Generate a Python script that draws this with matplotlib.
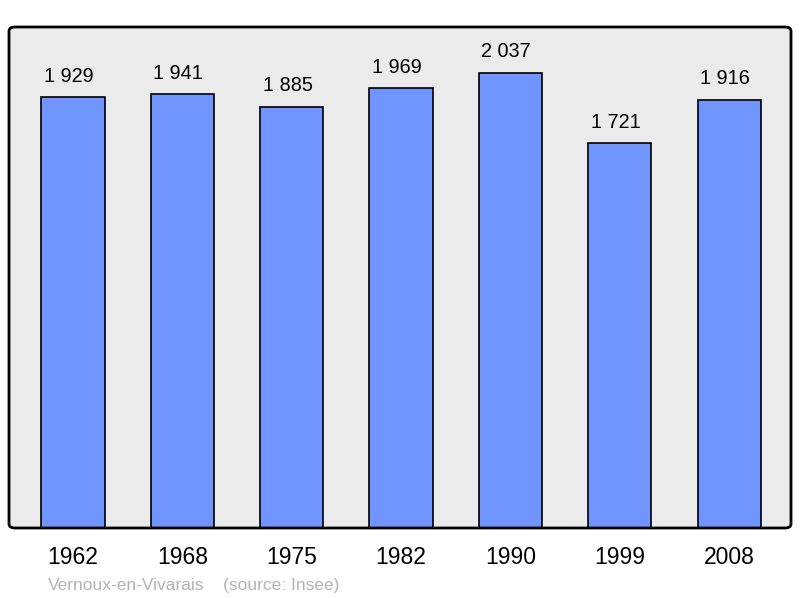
import matplotlib.pyplot as plt
from matplotlib.patches import FancyBboxPatch

years = ["1962", "1968", "1975", "1982", "1990", "1999", "2008"]
population = [1929, 1941, 1885, 1969, 2037, 1721, 1916]
labels = ["1 929", "1 941", "1 885", "1 969", "2 037", "1 721", "1 916"]
commune = "Vernoux-en-Vivarais"
source = "(source: Insee)"

plt.rcParams['font.family'] = ['Liberation Sans', 'DejaVu Sans']

fig = plt.figure(figsize=(8, 5.98), dpi=100)
ax = fig.add_axes([9 / 800, 70 / 598, 782 / 800, 501 / 598])
ax.set_facecolor("#ebebeb")

x = list(range(len(years)))
ax.bar(x, population, width=0.578, color="#7095ff", edgecolor="black", linewidth=1.2, zorder=2)

# labels sit a little left of the bar centre in the original
for xi, v, lab in zip(x, population, labels):
    ax.annotate(lab, (xi, v), xytext=(-3, 8), textcoords="offset points",
                ha="center", va="bottom", fontsize=14.3, color="black")

ax.set_xlim(-0.585, 6.565)
ax.set_ylim(0, max(population) * 1.1)
ax.set_xticks(x)
ax.set_xticklabels(years, fontsize=16.5)
ax.tick_params(axis="x", length=0, pad=13)
ax.set_yticks([])

for s in ax.spines.values():
    s.set_visible(False)
frame = FancyBboxPatch((0, 0), 1, 1, boxstyle="round,pad=0,rounding_size=0.008",
                       transform=ax.transAxes, fill=False, edgecolor="black",
                       linewidth=2, zorder=5, clip_on=False)
ax.add_patch(frame)

fig.text(48 / 800, 1 - 590 / 598, commune, fontsize=12.5, color="#b3b3b3", ha="left", va="baseline")
fig.text(223 / 800, 1 - 590 / 598, source, fontsize=12.5, color="#b3b3b3", ha="left", va="baseline")

fig.savefig("out.png", dpi=100)
